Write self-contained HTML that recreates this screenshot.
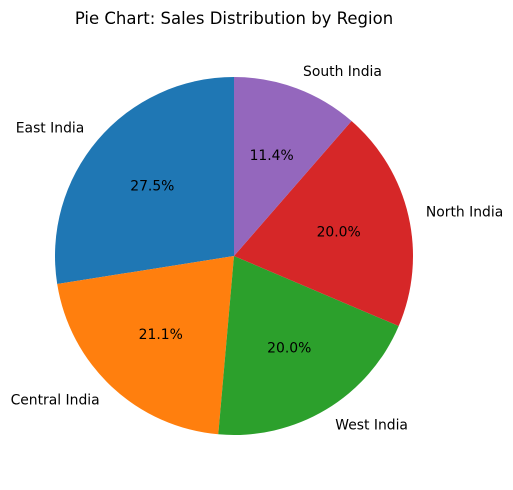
<!DOCTYPE html>
<html><head><meta charset="utf-8"><style>
html,body{margin:0;padding:0;background:#fff;}
svg{display:block;font-family:"DejaVu Sans","Liberation Sans",sans-serif;}
</style></head><body>
<svg id="chart" width="513" height="490" viewBox="0 0 513 490">
<text x="234" y="24" font-size="16.5" text-anchor="middle" fill="#000">Pie Chart: Sales Distribution by Region</text>
<g id="slices"></g>
</svg>
<script>
const categories = ["East India","Central India","West India","North India","South India"];
const values = [27.5, 21.1, 20.0, 20.0, 11.4];
const pctLabels = ["27.5%","21.1%","20.0%","20.0%","11.4%"];
const colors = ["#1f77b4","#ff7f0e","#2ca02c","#d62728","#9467bd"];
const cx = 234, cy = 256, r = 179;
const ns = "http://www.w3.org/2000/svg";
const g = document.getElementById("slices");
const total = values.reduce((a,b)=>a+b,0);
let start = 90;
function pt(deg, rad){ const a = deg*Math.PI/180; return [cx + rad*Math.cos(a), cy - rad*Math.sin(a)]; }
values.forEach((v,i)=>{
  const sweep = v/total*360;
  const end = start + sweep;
  const [x1,y1] = pt(start,r), [x2,y2] = pt(end,r);
  const large = sweep > 180 ? 1 : 0;
  const p = document.createElementNS(ns,"path");
  p.setAttribute("d",`M${cx},${cy} L${x1},${y1} A${r},${r} 0 ${large} 0 ${x2},${y2} Z`);
  p.setAttribute("fill",colors[i]);
  
  
  g.appendChild(p);
  const mid = start + sweep/2;
  const [lx,ly] = pt(mid, r*1.1);
  const t = document.createElementNS(ns,"text");
  t.setAttribute("x",lx); t.setAttribute("y",ly+4.5);
  t.setAttribute("font-size","13.9");
  t.setAttribute("text-anchor", Math.cos(mid*Math.PI/180) < 0 ? "end" : "start");
  t.textContent = categories[i];
  
  
  g.appendChild(t);
  const [px,py] = pt(mid, r*0.6);
  const pt2 = document.createElementNS(ns,"text");
  pt2.setAttribute("x",px); pt2.setAttribute("y",py+4.5);
  pt2.setAttribute("font-size","13.9");
  pt2.setAttribute("text-anchor","middle");
  pt2.textContent = pctLabels[i];
  
  
  g.appendChild(pt2);
  start = end;
});
</script>
</body></html>
